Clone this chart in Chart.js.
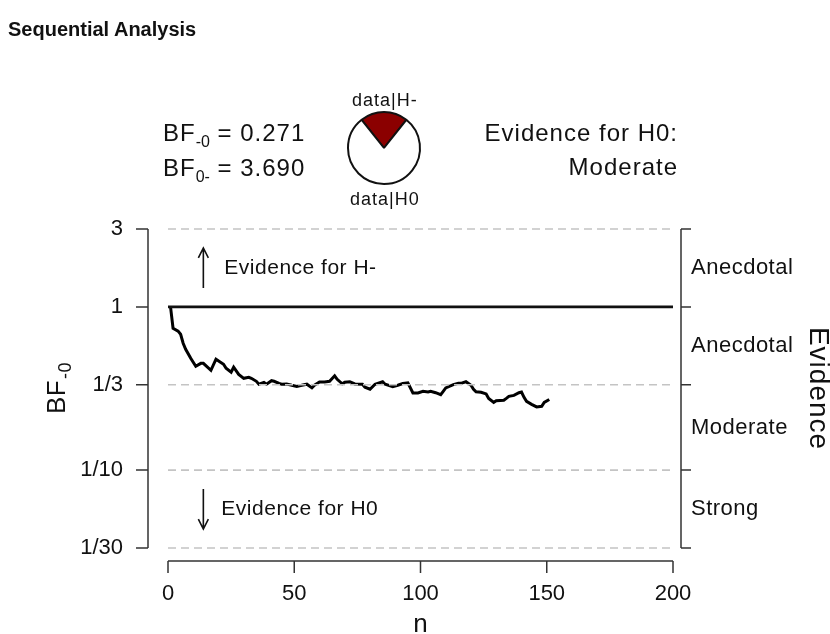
<!DOCTYPE html>
<html>
<head>
<meta charset="utf-8">
<script src="https://cdn.jsdelivr.net/npm/chart.js@4"></script>
<style>
  body { margin: 0; background: #fff; font-family: "Liberation Sans", Arial, sans-serif; color: #111; }
  #wrap { position: relative; width: 830px; height: 634px; overflow: hidden; }
  #main { position: absolute; left: 0; top: 0; }
  #pie { position: absolute; left: 345px; top: 109px; }
  .lbl { position: absolute; white-space: nowrap; line-height: 1; }
  .title { left: 8px; top: 19px; font-weight: bold; font-size: 20px; }
  .big { font-size: 24px; letter-spacing: 1px; }
  .small { font-size: 18px; letter-spacing: 1px; }
  sub { font-size: 16px; vertical-align: -6px; line-height: 0; letter-spacing: 0; }
</style>
</head>
<body>
<div id="wrap">
  <canvas id="main" width="830" height="634"></canvas>
  <canvas id="pie" width="78" height="78"></canvas>
  <div class="lbl title">Sequential Analysis</div>
  <div class="lbl big" style="left:163px;top:121px">BF<sub>-0</sub> = 0.271</div>
  <div class="lbl big" style="left:163px;top:156px">BF<sub>0-</sub> = 3.690</div>
  <div class="lbl big" style="right:152px;top:121px">Evidence for H0:</div>
  <div class="lbl big" style="right:152px;top:155px">Moderate</div>
  <div class="lbl small" style="left:352px;top:91px">data|H-</div>
  <div class="lbl small" style="left:350px;top:190px">data|H0</div>
</div>
<script>
// sequential BF-0 values
let nValues = [1, 2, 4, 5, 6, 7, 9, 11, 13, 14, 17, 19, 22, 23, 25, 26, 28, 30, 32, 33, 35, 36, 38, 39, 41, 42, 44, 45, 47, 49, 51, 53, 55, 57, 58, 60, 62, 64, 66, 67, 69, 70, 72, 74, 77, 78, 80, 82, 85, 86, 89, 91, 93, 95, 97, 99, 101, 103, 104, 106, 108, 109, 110, 113, 115, 116, 118, 120, 121, 122, 124, 126, 127, 129, 130, 133, 134, 135, 137, 139, 140, 141, 142, 144, 146, 148, 149, 151];
let bfValues = [1, 0.740, 0.710, 0.680, 0.599, 0.550, 0.484, 0.433, 0.451, 0.451, 0.409, 0.478, 0.445, 0.421, 0.398, 0.427, 0.386, 0.365, 0.370, 0.365, 0.350, 0.336, 0.345, 0.336, 0.353, 0.350, 0.340, 0.336, 0.337, 0.331, 0.326, 0.331, 0.336, 0.319, 0.331, 0.347, 0.347, 0.350, 0.378, 0.360, 0.338, 0.345, 0.348, 0.337, 0.336, 0.322, 0.313, 0.336, 0.348, 0.336, 0.324, 0.331, 0.339, 0.342, 0.297, 0.297, 0.304, 0.301, 0.304, 0.298, 0.290, 0.304, 0.319, 0.334, 0.340, 0.340, 0.348, 0.331, 0.313, 0.302, 0.300, 0.293, 0.275, 0.260, 0.266, 0.268, 0.275, 0.283, 0.287, 0.298, 0.301, 0.279, 0.264, 0.253, 0.244, 0.246, 0.260, 0.271];

let yTicks = [3, 1, 1/3, 1/10, 1/30];
let yTickLabels = ['3', '1', '1/3', '1/10', '1/30'];
let xTicks = [0, 50, 100, 150, 200];
let evidenceLabels = ['Anecdotal', 'Anecdotal', 'Moderate', 'Strong'];

let bfMinus0 = 0.271;

let lineData = nValues.map((n, i) => ({x: n, y: bfValues[i]}));

function hline(v, dashed) {
    return {
        data: [{x: 0, y: v}, {x: 200, y: v}],
        borderColor: dashed ? '#c4c4c4' : '#111',
        borderWidth: dashed ? 1.6 : 2.6,
        borderDash: dashed ? [8, 5] : [],
        pointRadius: 0,
        clip: false
    };
}

let refLines = [hline(3, true), hline(1/3, true), hline(1/10, true), hline(1/30, true), hline(1, false)];

const FONT = '"Liberation Sans", Arial, sans-serif';

// R style axes, labels and arrows
let axesPlugin = {
    id: 'axesPlugin',
    afterDraw(chart) {
        let ctx = chart.ctx;
        let xs = chart.scales.x;
        let ys = chart.scales.y;
        let top = ys.getPixelForValue(3);
        let bottom = ys.getPixelForValue(1/30);
        let mid = (top + bottom) / 2;
        let x0 = xs.getPixelForValue(0);
        let x200 = xs.getPixelForValue(200);
        ctx.save();
        ctx.strokeStyle = '#333';
        ctx.fillStyle = '#111';
        ctx.lineWidth = 1.5;

        // left axis
        let ax = x0 - 20;
        ctx.beginPath();
        ctx.moveTo(ax, top);
        ctx.lineTo(ax, bottom);
        yTicks.forEach(v => {
            let y = ys.getPixelForValue(v);
            ctx.moveTo(ax, y);
            ctx.lineTo(ax - 12, y);
        });
        ctx.stroke();
        ctx.font = '22px ' + FONT;
        ctx.textAlign = 'right';
        ctx.textBaseline = 'middle';
        yTicks.forEach((v, i) => {
            ctx.fillText(yTickLabels[i], ax - 25, ys.getPixelForValue(v));
        });

        // bottom axis
        let by = bottom + 13;
        ctx.beginPath();
        ctx.moveTo(x0, by);
        ctx.lineTo(x200, by);
        xTicks.forEach(v => {
            let x = xs.getPixelForValue(v);
            ctx.moveTo(x, by);
            ctx.lineTo(x, by + 12);
        });
        ctx.stroke();
        ctx.textAlign = 'center';
        ctx.textBaseline = 'middle';
        xTicks.forEach(v => {
            ctx.fillText(String(v), xs.getPixelForValue(v), by + 33);
        });
        ctx.font = '26px ' + FONT;
        ctx.fillText('n', (x0 + x200) / 2, by + 64);

        // right evidence axis
        let rx = x200 + 8;
        ctx.beginPath();
        ctx.moveTo(rx, top);
        ctx.lineTo(rx, bottom);
        yTicks.forEach(v => {
            let y = ys.getPixelForValue(v);
            ctx.moveTo(rx, y);
            ctx.lineTo(rx + 10, y);
        });
        ctx.stroke();
        ctx.font = '22px ' + FONT;
        ctx.letterSpacing = '0.5px';
        ctx.textAlign = 'left';
        for (let i = 0; i < evidenceLabels.length; i++) {
            let m = Math.sqrt(yTicks[i] * yTicks[i + 1]);
            ctx.fillText(evidenceLabels[i], rx + 10, ys.getPixelForValue(m));
        }

        // rotated titles
        ctx.save();
        ctx.letterSpacing = '1px';
        ctx.translate(818, mid);
        ctx.rotate(Math.PI / 2);
        ctx.font = '28px ' + FONT;
        ctx.textAlign = 'center';
        ctx.fillText('Evidence', 0, 0);
        ctx.restore();

        ctx.save();
        ctx.letterSpacing = '0.5px';
        ctx.translate(65, mid);
        ctx.rotate(-Math.PI / 2);
        ctx.textBaseline = 'alphabetic';
        ctx.font = '26px ' + FONT;
        let w1 = ctx.measureText('BF').width;
        ctx.font = '18px ' + FONT;
        let w2 = ctx.measureText('-0').width;
        let sx = -(w1 + w2) / 2;
        ctx.textAlign = 'left';
        ctx.font = '26px ' + FONT;
        ctx.fillText('BF', sx, 0);
        ctx.font = '18px ' + FONT;
        ctx.fillText('-0', sx + w1 + 1, 6);
        ctx.restore();

        // evidence arrows
        ctx.strokeStyle = '#111';
        ctx.lineWidth = 1.6;
        let arx = xs.getPixelForValue(14);
        let upMid = ys.getPixelForValue(Math.sqrt(3));
        let dnMid = ys.getPixelForValue(Math.sqrt(1/300));
        ctx.beginPath();
        ctx.moveTo(arx, upMid + 20);
        ctx.lineTo(arx, upMid - 19);
        ctx.moveTo(arx - 5, upMid - 10);
        ctx.lineTo(arx, upMid - 20);
        ctx.lineTo(arx + 5, upMid - 10);
        ctx.moveTo(arx, dnMid - 20);
        ctx.lineTo(arx, dnMid + 19);
        ctx.moveTo(arx - 5, dnMid + 10);
        ctx.lineTo(arx, dnMid + 20);
        ctx.lineTo(arx + 5, dnMid + 10);
        ctx.stroke();
        ctx.font = '21px ' + FONT;
        ctx.letterSpacing = '0.5px';
        ctx.textAlign = 'left';
        ctx.textBaseline = 'middle';
        ctx.fillText('Evidence for H-', arx + 21, upMid);
        ctx.fillText('Evidence for H0', arx + 18, dnMid);
        ctx.restore();
    }
};

new Chart(document.getElementById('main'), {
    type: 'line',
    data: {
        datasets: refLines.concat([{
            data: lineData,
            borderColor: '#000',
            borderWidth: 3,
            pointRadius: 0,
            tension: 0,
            clip: false
        }])
    },
    options: {
        responsive: false,
        animation: false,
        devicePixelRatio: 1,
        layout: {padding: {left: 168, right: 157, top: 229, bottom: 86}},
        plugins: {legend: {display: false}, tooltip: {enabled: false}},
        scales: {
            x: {type: 'linear', min: 0, max: 200, display: false},
            y: {type: 'logarithmic', min: 1/30, max: 3, display: false}
        }
    },
    plugins: [axesPlugin]
});

// probability wheel: data|H- vs data|H0
let fracH = bfMinus0 / (1 + bfMinus0);
new Chart(document.getElementById('pie'), {
    type: 'pie',
    data: {
        labels: ['data|H-', 'data|H0'],
        datasets: [{
            data: [bfMinus0, 1],
            backgroundColor: ['#8b0000', '#ffffff'],
            borderColor: '#111',
            borderWidth: 2
        }]
    },
    options: {
        responsive: false,
        animation: false,
        devicePixelRatio: 1,
        rotation: -fracH * 180,
        layout: {padding: 2},
        plugins: {legend: {display: false}, tooltip: {enabled: false}}
    }
});
</script>
</body>
</html>
